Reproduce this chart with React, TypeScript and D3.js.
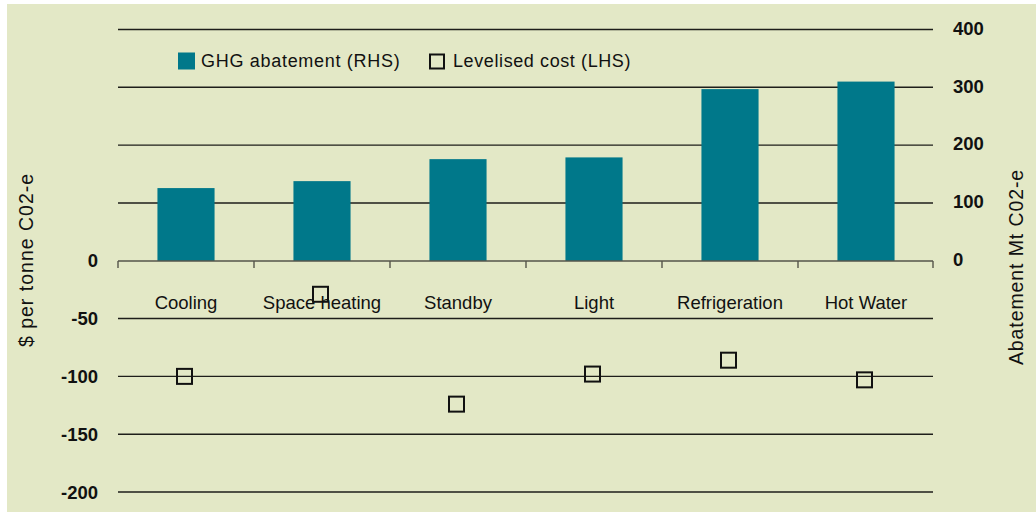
import React from "react";
import * as d3 from "d3";

const categories = ["Cooling", "Space heating", "Standby", "Light", "Refrigeration", "Hot Water"];
const abatement = [126, 138, 176, 179, 297, 310]; // Mt CO2-e (RHS)
const levelisedCost = [-100, -29, -124, -98, -86, -103]; // $ per tonne (LHS)
const leftTicks = [0, -50, -100, -150, -200];
const leftGrid = [200, 150, 100, 50, -50, -100, -150, -200];
const rightTicks = [0, 100, 200, 300, 400];
const legendLabels = ["GHG abatement (RHS)", "Levelised cost (LHS)"];
const leftTitle = "$ per tonne C02-e";
const rightTitle = "Abatement Mt C02-e";

const W = 1036;
const H = 517;
const FONT = "Arial, 'Liberation Sans', sans-serif";
const BG = "#e3e8c6";
const TEAL = "#00788a";

export default function App() {
  const x0 = 118;
  const x1 = 934;
  const yZero = 261;
  const x = d3.scaleBand<string>().domain(categories).range([x0, x1]).paddingInner(0).paddingOuter(0);
  const yL = d3.scaleLinear().domain([-200, 200]).range([492, 29.5]);
  const yR = d3.scaleLinear().domain([0, 400]).range([yZero, 29.5]);
  const bw = x.bandwidth();
  const barW = bw * 0.42;
  const m = 7.5;

  return (
    <div style={{ position: "absolute", left: 0, top: 0 }}>
      <svg width={W} height={H} style={{ display: "block", fontFamily: FONT }}>
        <rect x={0} y={0} width={W} height={H} fill="#ffffff" />
        <rect x={7} y={4} width={W - 7} height={508} fill={BG} />

        {/* gridlines */}
        {leftGrid.map((v) => (
          <line key={"g" + v} x1={x0} x2={x1 - 1} y1={yL(v)} y2={yL(v)} stroke="#1e1e1a" strokeWidth={1.4} />
        ))}

        {/* bars */}
        {categories.map((c, i) => (
          <rect
            key={"b" + c}
            x={(x(c) as number) + (bw - barW) / 2}
            y={yR(abatement[i])}
            width={barW}
            height={yR(0) - yR(abatement[i])}
            fill={TEAL}
          />
        ))}

        {/* zero axis with ticks */}
        <line x1={x0} x2={x1 - 1} y1={yZero} y2={yZero} stroke="#55554a" strokeWidth={1.6} />
        {categories.map((c) => (
          <line key={"t" + c} x1={x(c) as number} x2={x(c) as number} y1={yZero} y2={yZero + 7} stroke="#55554a" strokeWidth={1.4} />
        ))}
        <line x1={x1 - 1} x2={x1 - 1} y1={yZero} y2={yZero + 7} stroke="#55554a" strokeWidth={1.4} />

        {/* category labels */}
        {categories.map((c) => (
          <text key={"l" + c} x={(x(c) as number) + bw / 2} y={309} textAnchor="middle" fontSize={18.5} fill="#111">
            {c}
          </text>
        ))}

        {/* markers */}
        {categories.map((c, i) => (
          <rect
            key={"m" + c}
            x={(x(c) as number) + bw / 2 - 1.5 - m}
            y={yL(levelisedCost[i]) - m}
            width={2 * m}
            height={2 * m}
            fill="none"
            stroke="#111"
            strokeWidth={2}
          />
        ))}

        {/* left tick labels */}
        {leftTicks.map((v) => (
          <text key={"lt" + v} x={98} y={yL(v)} dy="0.36em" textAnchor="end" fontSize={18.5} fontWeight="bold" fill="#111">
            {v}
          </text>
        ))}

        {/* right tick labels */}
        {rightTicks.map((v) => (
          <text key={"rt" + v} x={953} y={yR(v) - 1.5} dy="0.36em" textAnchor="start" fontSize={18.5} fontWeight="bold" fill="#111">
            {v}
          </text>
        ))}

        {/* axis titles */}
        <text transform={`translate(33,260) rotate(-90)`} textAnchor="middle" fontSize={19.5} letterSpacing={1} fill="#111">
          {leftTitle}
        </text>
        <text transform={`translate(1023,267) rotate(-90)`} textAnchor="middle" fontSize={19.5} letterSpacing={0.9} fill="#111">
          {rightTitle}
        </text>

        {/* legend */}
        <rect x={178} y={52.5} width={17} height={17} fill={TEAL} />
        <text x={201} y={67} fontSize={18} letterSpacing={0.7} fill="#111">
          {legendLabels[0]}
        </text>
        <rect x={430} y={54.5} width={14} height={14} fill="none" stroke="#111" strokeWidth={2} />
        <text x={453} y={67} fontSize={18} letterSpacing={0.6} fill="#111">
          {legendLabels[1]}
        </text>
      </svg>
    </div>
  );
}
